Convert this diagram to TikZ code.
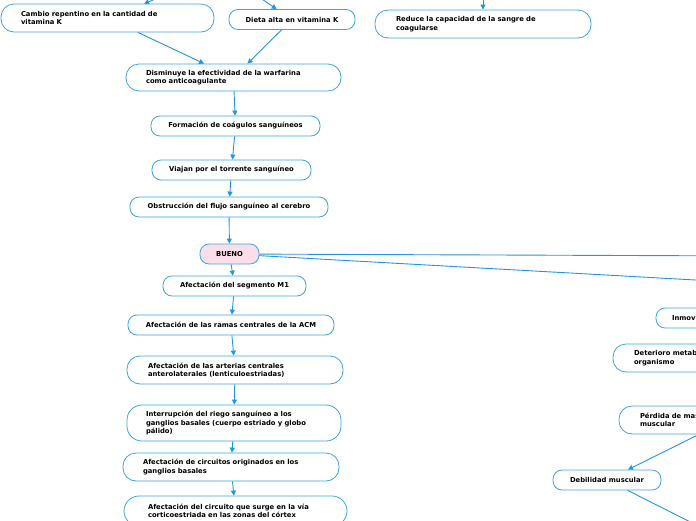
\documentclass[tikz,border=0pt]{standalone}
\usepackage{fontspec}
\setmainfont{DejaVu Sans}
\usetikzlibrary{arrows.meta}
\usepackage{xcolor}
\definecolor{lblue}{RGB}{33,150,226}
\definecolor{bblue}{RGB}{62,163,232}
\definecolor{mpink}{RGB}{252,222,232}

\begin{document}
\begin{tikzpicture}[x=1pt, y=-1pt,
  box/.style={draw=bblue, line width=0.8pt, rounded corners=9pt, fill=white,
              align=center, font=\fontsize{6.8}{8.5}\selectfont\bfseries,
              minimum height=20pt, inner sep=0pt},
  lbox/.style={box, align=left, rounded corners=13pt, minimum height=28pt,
               inner xsep=20pt},
  arr/.style={-{Triangle[length=5pt,width=5pt]}, draw=lblue, line width=0.9pt},
]
\useasboundingbox (0,0) rectangle (696,520);

\node[lbox, text width=173pt] (cambio) at (107.5,18)
  {Cambio repentino en la cantidad de\\vitamina K};
\node[box, minimum width=126pt] (dieta) at (292,19.5) {Dieta alta en vitamina K};
\node[lbox, text width=174pt, inner xsep=21pt] (reduce) at (483,24)
  {Reduce la capacidad de la sangre de\\coagularse};
\node[lbox, text width=175pt, minimum height=27pt] (disminuye) at (233.5,77.5)
  {Disminuye la efectividad de la warfarina\\como anticoagulante};
\node[box, minimum width=169pt] (formacion) at (235.5,126) {Formación de coágulos sanguíneos};
\node[box, minimum width=159pt] (viajan) at (231.5,170) {Viajan por el torrente sanguíneo};
\node[box, minimum width=198pt] (obstruccion) at (229,207) {Obstrucción del flujo sanguíneo al cerebro};
\node[box, fill=mpink, minimum width=59pt] (bueno) at (229.5,254) {BUENO};
\node[box, minimum width=143pt] (segmento) at (234.5,286) {Afectación del segmento M1};
\node[box, minimum width=206pt] (ramas) at (231,325) {Afectación de las ramas centrales de la ACM};
\node[lbox, text width=174pt, inner xsep=21pt] (arterias) at (235,370)
  {Afectación de las arterias centrales\\anterolaterales (lenticuloestriadas)};
\node[lbox, text width=176pt, inner xsep=19pt, minimum height=36pt, rounded corners=15pt] (riego) at (234,423)
  {Interrupción del riego sanguíneo a los\\ganglios basales (cuerpo estriado y globo\\pálido)};
\node[lbox, text width=176pt] (circuitos) at (231,467)
  {Afectación de circuitos originados en los\\ganglios basales};
\node[lbox, text width=175pt, inner xsep=24pt, minimum height=30pt, rounded corners=15pt] (cortex) at (235.5,511)
  {Afectación del circuito que surge en la vía\\corticoestriada en las zonas del córtex};

\node[lbox, text width=68pt, inner xsep=16pt, minimum height=20pt, rounded corners=9pt] (inmov) at (706,318) {Inmovilidad};
\node[lbox, text width=128pt, inner xsep=21pt] (deterioro) at (698,358)
  {Deterioro metabólico del\\organismo};
\node[lbox, text width=176pt, inner xsep=21pt] (perdida) at (728,420)
  {Pérdida de masa\\muscular};
\node[box, minimum width=108pt] (debilidad) at (607,480) {Debilidad muscular};

\coordinate (arriba1) at (178.5,-10);
\coordinate (arriba2) at (250,-9);
\coordinate (arriba3) at (483,-15);
\coordinate (der1) at (760,256);
\coordinate (der2) at (760,283.6);
\coordinate (abajo1) at (740,547);

\draw[arr] (arriba1) -- (cambio);
\draw[arr] (arriba2) -- (dieta);
\draw[arr] (arriba3) -- (reduce);
\draw[arr] (cambio) -- (disminuye);
\draw[arr] (dieta) -- (disminuye);
\draw[arr] (disminuye) -- (formacion);
\draw[arr] (formacion) -- (viajan);
\draw[arr] (viajan) -- (obstruccion);
\draw[arr] (obstruccion) -- (bueno);
\draw[arr] (bueno) -- (der1);
\draw[arr] (bueno) -- (der2);
\draw[arr] (bueno) -- (segmento);
\draw[arr] (segmento) -- (ramas);
\draw[arr] (ramas) -- (arterias);
\draw[arr] (arterias) -- (riego);
\draw[arr] (riego) -- (circuitos);
\draw[arr] (circuitos) -- (cortex);
\draw[arr] (perdida) -- (debilidad);
\draw[arr] (debilidad) -- (abajo1);
\end{tikzpicture}
\end{document}
